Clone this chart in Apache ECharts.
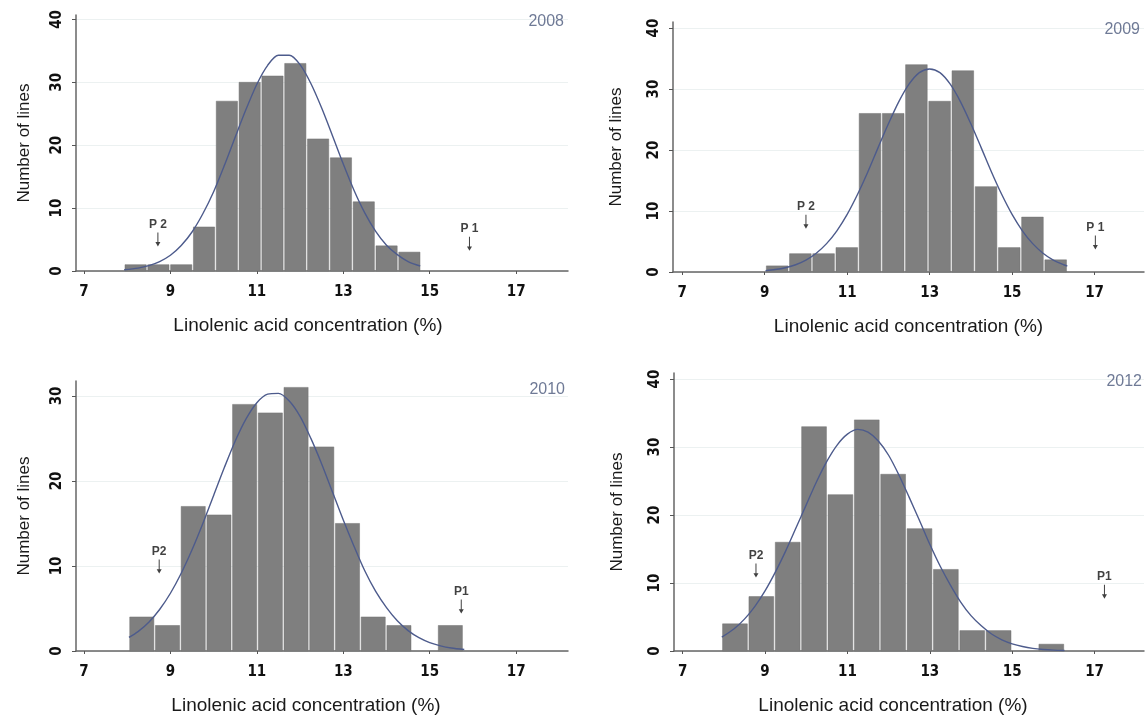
<!DOCTYPE html>
<html>
<head>
<meta charset="utf-8">
<script src="https://cdn.jsdelivr.net/npm/echarts@6/dist/echarts.min.js"></script>
<style>
html, body { margin: 0; padding: 0; background: #fff; }
#chart { width: 1145px; height: 716px; }
</style>
</head>
<body>
<div id="chart"></div>
<script>
// tick labels
const xTicks = [7, 9, 11, 13, 15, 17];
const yTicks40 = [0, 10, 20, 30, 40];
const yTicks30 = [0, 10, 20, 30];

// histograms: first bin edge, bin width, counts per bin
const binStart2008 = 7.93, binWidth2008 = 0.528;
const counts2008 = [1, 1, 1, 7, 27, 30, 31, 33, 21, 18, 11, 4, 3];
const binStart2009 = 9.02, binWidth2009 = 0.563;
const counts2009 = [1, 3, 3, 4, 26, 26, 34, 28, 33, 14, 4, 9, 2];
const binStart2010 = 8.04, binWidth2010 = 0.595;
const counts2010 = [4, 3, 17, 16, 29, 28, 31, 24, 15, 4, 3, 0, 3];
const binStart2012 = 7.95, binWidth2012 = 0.64;
const counts2012 = [4, 8, 16, 33, 23, 34, 26, 18, 12, 3, 3, 0, 1];

// fitted normal curves
const curve2008 = [[7.93, 0.19], [8.25, 0.46], [8.5, 0.85], [8.75, 1.5], [9, 2.5], [9.25, 4.05], [9.5, 6.2], [9.75, 9.1],
    [10, 12.6], [10.25, 16.8], [10.5, 21.3], [10.75, 25.7], [11, 29.7], [11.25, 32.7], [11.5, 34.3], [11.75, 34.3],
    [12, 32.8], [12.25, 29.8], [12.5, 25.9], [12.75, 21.5], [13, 17.0], [13.25, 12.8], [13.5, 9.2], [13.75, 6.3],
    [14, 4.1], [14.25, 2.6], [14.5, 1.5], [14.78, 0.8]];
const curve2009 = [[9.02, 0.23], [9.25, 0.4], [9.5, 0.7], [9.75, 1.19], [10, 1.95], [10.25, 3.08], [10.5, 4.65],
    [10.75, 6.76], [11, 9.45], [11.25, 12.7], [11.5, 16.4], [11.75, 20.4], [12, 24.3], [12.25, 27.9], [12.5, 30.8],
    [12.75, 32.7], [13, 33.3], [13.25, 32.7], [13.5, 30.8], [13.75, 27.9], [14, 24.3], [14.25, 20.4], [14.5, 16.4],
    [14.75, 12.7], [15, 9.45], [15.25, 6.76], [15.5, 4.65], [15.75, 3.08], [16, 1.95], [16.25, 1.19], [16.34, 0.99]];
const curve2010 = [[8.04, 1.6], [8.25, 2.28], [8.5, 3.39], [8.75, 4.88], [9, 6.79], [9.25, 9.14], [9.5, 11.9],
    [9.75, 15.0], [10, 18.3], [10.25, 21.6], [10.5, 24.7], [10.75, 27.3], [11, 29.2], [11.25, 30.2], [11.5, 30.3],
    [11.75, 29.4], [12, 27.6], [12.25, 25.0], [12.5, 22.0], [12.75, 18.7], [13, 15.4], [13.25, 12.3], [13.5, 9.4],
    [13.75, 7.0], [14, 5.1], [14.25, 3.55], [14.5, 2.4], [14.75, 1.57], [15, 0.99], [15.25, 0.61], [15.5, 0.36],
    [15.8, 0.18]];
const curve2012 = [[7.95, 2.03], [8.25, 3.27], [8.5, 4.69], [8.75, 6.54], [9, 8.84], [9.25, 11.6], [9.5, 14.7],
    [9.75, 18.1], [10, 21.5], [10.25, 24.9], [10.5, 27.9], [10.75, 30.3], [11, 31.9], [11.25, 32.6], [11.5, 32.2],
    [11.75, 30.9], [12, 28.8], [12.25, 25.9], [12.5, 22.6], [12.75, 19.2], [13, 15.7], [13.25, 12.5], [13.5, 9.7],
    [13.75, 7.2], [14, 5.2], [14.25, 3.7], [14.5, 2.5], [14.75, 1.65], [15, 1.06], [15.25, 0.66], [15.5, 0.39],
    [15.75, 0.23], [16, 0.13], [16.27, 0.07]];

// parent markers: label, x, y of arrow tip
const marks2008 = [['P 2', 8.71, 3.9], ['P 1', 15.92, 3.2]];
const marks2009 = [['P 2', 10.0, 7.1], ['P 1', 17.02, 3.7]];
const marks2010 = [['P2', 8.74, 9.1], ['P1', 15.73, 4.4]];
const marks2012 = [['P2', 8.78, 10.8], ['P1', 17.24, 7.7]];

const panels = [
    { year: '2008', start: binStart2008, width: binWidth2008, counts: counts2008, curve: curve2008, marks: marks2008,
      yTicks: yTicks40, grid: { left: 76, top: 15, width: 492, height: 256 }, xMin: 6.815, yMax: 40.7,
      yearPos: { right: 581, top: 14 }, namePad: 28, yNameGap: 43 },
    { year: '2009', start: binStart2009, width: binWidth2009, counts: counts2009, curve: curve2009, marks: marks2009,
      yTicks: yTicks40, grid: { left: 673, top: 22, width: 471, height: 250 }, xMin: 6.775, yMax: 41,
      yearPos: { right: 5, top: 22 }, namePad: 0, yNameGap: 48 },
    { year: '2010', start: binStart2010, width: binWidth2010, counts: counts2010, curve: curve2010, marks: marks2010,
      yTicks: yTicks30, grid: { left: 76, top: 381, width: 492, height: 274 }, xMin: 6.815, yMax: 31.75,
      yearPos: { right: 580, top: 382 }, namePad: 32, yNameGap: 43 },
    { year: '2012', start: binStart2012, width: binWidth2012, counts: counts2012, curve: curve2012, marks: marks2012,
      yTicks: yTicks40, grid: { left: 674, top: 373, width: 470, height: 279 }, xMin: 6.79, yMax: 40.9,
      yearPos: { right: 3, top: 374 }, namePad: 32, yNameGap: 48 }
];

const tickFont = {
    fontFamily: '"Liberation Sans Narrow", "DejaVu Sans Condensed", "Liberation Sans", sans-serif',
    fontWeight: 'bold', fontSize: 15, color: '#111'
};
const textFont = '"Liberation Sans", Arial, sans-serif';
const axisLineStyle = { color: '#666', width: 1.5 };

function renderBar(params, api) {
    const n = api.value(2);
    if (!n) return;
    const a = api.coord([api.value(0), n]);
    const b = api.coord([api.value(1), 0]);
    return {
        type: 'rect',
        shape: { x: a[0] + 0.8, y: a[1], width: b[0] - a[0] - 1.6, height: b[1] - a[1] },
        style: { fill: '#7f7f7f', stroke: '#707070', lineWidth: 0.5 }
    };
}

let option = {
    animation: false,
    backgroundColor: '#fff',
    title: [], grid: [], xAxis: [], yAxis: [], series: []
};

panels.forEach((p, i) => {
    option.grid.push(p.grid);
    option.title.push({
        text: p.year, right: p.yearPos.right, top: p.yearPos.top, padding: 0,
        textStyle: { fontSize: 16, fontWeight: 'normal', color: '#6f7a96', fontFamily: textFont }
    });
    option.xAxis.push({
        type: 'value', gridIndex: i, min: p.xMin, max: 18.2,
        name: 'Linolenic acid concentration (%)', nameLocation: 'middle', nameGap: 45,
        nameTextStyle: { fontSize: 19, color: '#1a1a1a', fontFamily: textFont, padding: [0, p.namePad, 0, 0] },
        axisLine: { lineStyle: axisLineStyle },
        axisTick: { show: true, length: 3, customValues: xTicks, lineStyle: { color: '#555' } },
        axisLabel: Object.assign({ customValues: xTicks, margin: 14 }, tickFont),
        splitLine: { show: false }
    });
    option.yAxis.push({
        type: 'value', gridIndex: i, min: 0, max: p.yMax,
        name: 'Number of lines', nameLocation: 'middle', nameGap: p.yNameGap,
        nameTextStyle: { fontSize: 17, color: '#1a1a1a', fontFamily: textFont },
        axisLine: { show: true, lineStyle: axisLineStyle },
        axisTick: { show: true, length: 4, customValues: p.yTicks, lineStyle: { color: '#555' } },
        axisLabel: Object.assign({ customValues: p.yTicks, rotate: 90, margin: 11 }, tickFont),
        splitLine: { show: true, lineStyle: { color: '#ecf1f1', width: 1 } }
    });
    option.series.push({
        type: 'custom', xAxisIndex: i, yAxisIndex: i, clip: false,
        renderItem: renderBar,
        encode: { x: [0, 1], y: 2 },
        data: p.counts.map((c, k) => [p.start + k * p.width, p.start + (k + 1) * p.width, c]),
        z: 2
    });
    option.series.push({
        type: 'line', xAxisIndex: i, yAxisIndex: i, smooth: 0.3, showSymbol: false,
        lineStyle: { color: '#4d5b8c', width: 1.4 },
        data: p.curve, z: 3
    });
    option.series.push({
        type: 'scatter', xAxisIndex: i, yAxisIndex: i,
        symbol: 'path://M2.4,0 L3.6,0 L3.6,11 L6,11 L3,16 L0,11 L2.4,11 Z',
        symbolSize: [5, 14], symbolOffset: [0, '-50%'],
        itemStyle: { color: '#111' },
        label: {
            show: true, position: 'top', distance: 2, formatter: q => q.name,
            fontSize: 12, fontWeight: 'bold', color: '#111', fontFamily: textFont
        },
        data: p.marks.map(m => ({ name: m[0], value: [m[1], m[2]] })),
        z: 4
    });
});

const chart = echarts.init(document.getElementById('chart'));
chart.setOption(option);
</script>
</body>
</html>
